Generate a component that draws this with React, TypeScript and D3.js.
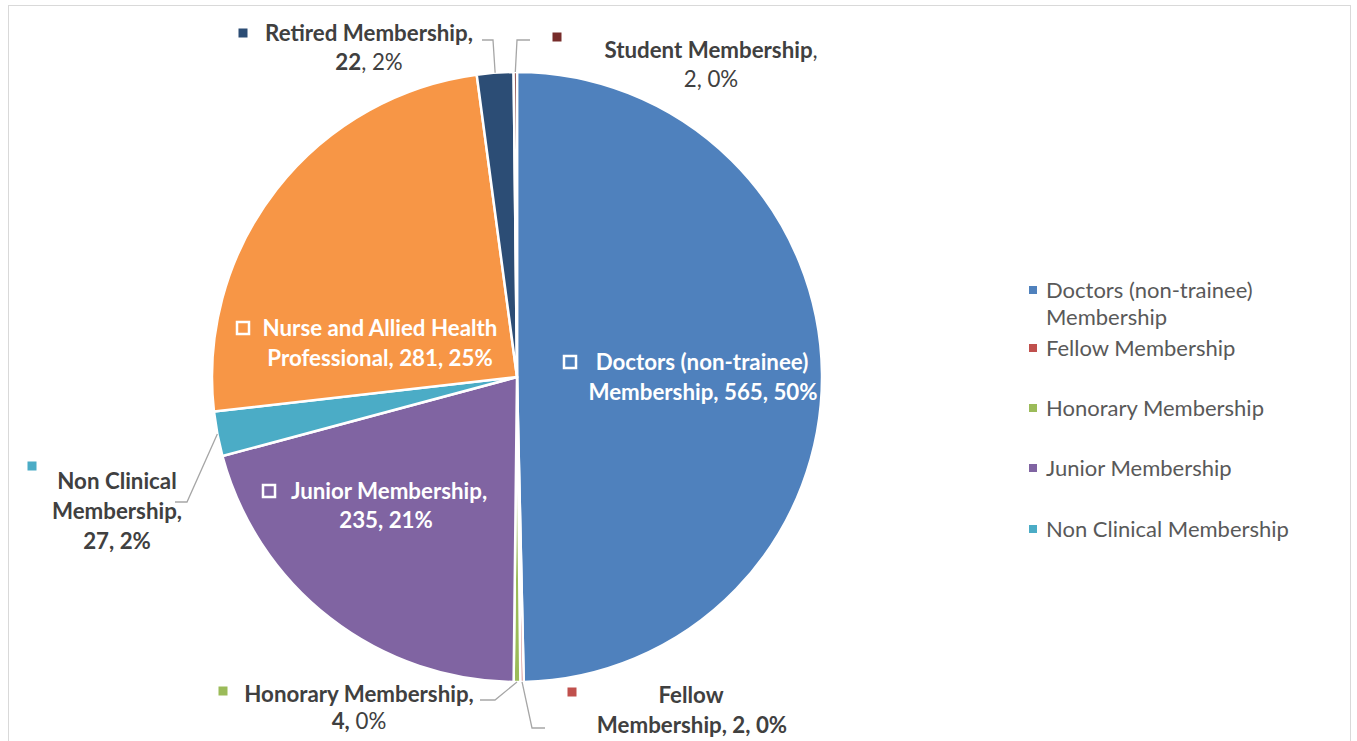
import React from "react";
import * as d3 from "d3";

const categories = [
  "Doctors (non-trainee) Membership",
  "Fellow Membership",
  "Honorary Membership",
  "Junior Membership",
  "Non Clinical Membership",
  "Nurse and Allied Health Professional",
  "Retired Membership",
  "Student Membership",
];
const values = [565, 2, 4, 235, 27, 281, 22, 2];
const percentLabels = ["50%", "0%", "0%", "21%", "2%", "25%", "2%", "0%"];
const colors = ["#4F81BD", "#C0504D", "#9BBB59", "#8064A2", "#4BACC6", "#F79646", "#2C4D75", "#772C2A"];
const legendItems = [
  ["Doctors (non-trainee)", "Membership"],
  ["Fellow Membership"],
  ["Honorary Membership"],
  ["Junior Membership"],
  ["Non Clinical Membership"],
];

type Seg = { t: string; b: boolean };
type Line = { x: number; y: number; segs: Seg[]; anchor?: string };
type LabelLayout = {
  inside: boolean;
  marker: [number, number];
  lines: Line[];
  leader?: [number, number, number];
};

const B = (t: string): Seg => ({ t, b: true });
const N = (t: string): Seg => ({ t, b: false });

const FONT = "Lato, 'Open Sans', sans-serif";

export default function App() {
  const W = 1357, H = 741;
  const cx = 517, cy = 377, R = 305;

  const pie = d3.pie<number>().sort(null).value((d) => d);
  const arcs = pie(values);
  const arcGen = d3.arc<d3.PieArcDatum<number>>().innerRadius(0).outerRadius(R);

  const v = values;
  const p = percentLabels;
  const layouts: LabelLayout[] = [
    {
      inside: true,
      marker: [570, 362],
      lines: [
        { x: 702, y: 362, segs: [B("Doctors (non-trainee)")] },
        { x: 703, y: 392, segs: [B(`Membership, ${v[0]}, ${p[0]}`)] },
      ],
    },
    {
      inside: false,
      marker: [572, 692],
      lines: [
        { x: 691, y: 695, segs: [B("Fellow")] },
        { x: 692, y: 725, segs: [B(`Membership, ${v[1]}, ${p[1]}`)] },
      ],
      leader: [532, 728, 545],
    },
    {
      inside: false,
      marker: [223, 691],
      lines: [
        { x: 359, y: 694, segs: [B("Honorary Membership,")] },
        { x: 359, y: 721, segs: [B(`${v[2]},`), N(` ${p[2]}`)] },
      ],
      leader: [495, 700, 480],
    },
    {
      inside: true,
      marker: [269, 491],
      lines: [
        { x: 389, y: 491, segs: [B("Junior Membership,")] },
        { x: 386, y: 520, segs: [B(`${v[3]}, ${p[3]}`)] },
      ],
    },
    {
      inside: false,
      marker: [32, 466],
      lines: [
        { x: 117, y: 481, segs: [B("Non Clinical")] },
        { x: 117, y: 511, segs: [B("Membership,")] },
        { x: 117, y: 541, segs: [B(`${v[4]}, ${p[4]}`)] },
      ],
      leader: [187, 502, 175],
    },
    {
      inside: true,
      marker: [243, 328],
      lines: [
        { x: 380, y: 328, segs: [B("Nurse and Allied Health")] },
        { x: 380, y: 358, segs: [B(`Professional, ${v[5]}, ${p[5]}`)] },
      ],
    },
    {
      inside: false,
      marker: [243, 33],
      lines: [
        { x: 369, y: 33, segs: [B("Retired Membership,")] },
        { x: 369, y: 62, segs: [B(`${v[6]}`), N(`, ${p[6]}`)] },
      ],
      leader: [493, 40, 482],
    },
    {
      inside: false,
      marker: [557, 37],
      lines: [
        { x: 711, y: 50, segs: [B("Student Membership"), N(",")] },
        { x: 711, y: 79, segs: [N(`${v[7]}, ${p[7]}`)] },
      ],
      leader: [517, 40, 530],
    },
  ];

  const fs = 22.3;

  return (
    <svg width={W} height={H} style={{ display: "block", position: "absolute", left: 0, top: 0 }}>
      <rect x={0} y={0} width={W} height={H} fill="#ffffff" />
      <rect x={8.5} y={5.5} width={1342} height={760} fill="none" stroke="#d9d9d9" strokeWidth={1} />
      <g>
        {arcs.map((a, i) => (
          <path
            key={categories[i]}
            d={arcGen(a) || ""}
            transform={`translate(${cx},${cy})`}
            fill={colors[i]}
            stroke="#ffffff"
            strokeWidth={2.5}
            strokeLinejoin="round"
          />
        ))}
      </g>
      <g>
        {arcs.map((a, i) => {
          const L = layouts[i];
          if (!L.leader) return null;
          const mid = (a.startAngle + a.endAngle) / 2;
          const x0 = cx + R * Math.sin(mid);
          const y0 = cy - R * Math.cos(mid);
          const [ex, ey, tx] = L.leader;
          return (
            <polyline
              key={"lead" + i}
              points={`${x0},${y0} ${ex},${ey} ${tx},${ey}`}
              fill="none"
              stroke="#a6a6a6"
              strokeWidth={1.3}
            />
          );
        })}
      </g>
      <g fontFamily={FONT} fontSize={fs}>
        {layouts.map((L, i) => (
          <g key={"lab" + i}>
            {L.inside ? (
              <rect
                x={L.marker[0] - 6}
                y={L.marker[1] - 6}
                width={12}
                height={12}
                fill={colors[i]}
                stroke="#ffffff"
                strokeWidth={2.5}
              />
            ) : (
              <rect x={L.marker[0] - 4.5} y={L.marker[1] - 4.5} width={9} height={9} fill={colors[i]} />
            )}
            {L.lines.map((ln, j) => (
              <text
                key={j}
                x={ln.x}
                y={ln.y}
                dy="0.36em"
                textAnchor={ln.anchor || "middle"}
                fill={L.inside ? "#ffffff" : "#404040"}
              >
                {ln.segs.map((s, k) => (
                  <tspan key={k} fontWeight={s.b ? 700 : 400}>
                    {s.t}
                  </tspan>
                ))}
              </text>
            ))}
          </g>
        ))}
      </g>
      <g fontFamily={FONT} fontSize={22} fill="#595959">
        {legendItems.map((lines, i) => {
          const ys = [290, 348, 408, 468, 529];
          return (
            <g key={"leg" + i}>
              <rect x={1029} y={ys[i] - 4} width={8} height={8} fill={colors[i]} />
              {lines.map((t, j) => (
                <text key={j} x={1046} y={ys[i] + j * 27} dy="0.36em">
                  {t}
                </text>
              ))}
            </g>
          );
        })}
      </g>
    </svg>
  );
}
